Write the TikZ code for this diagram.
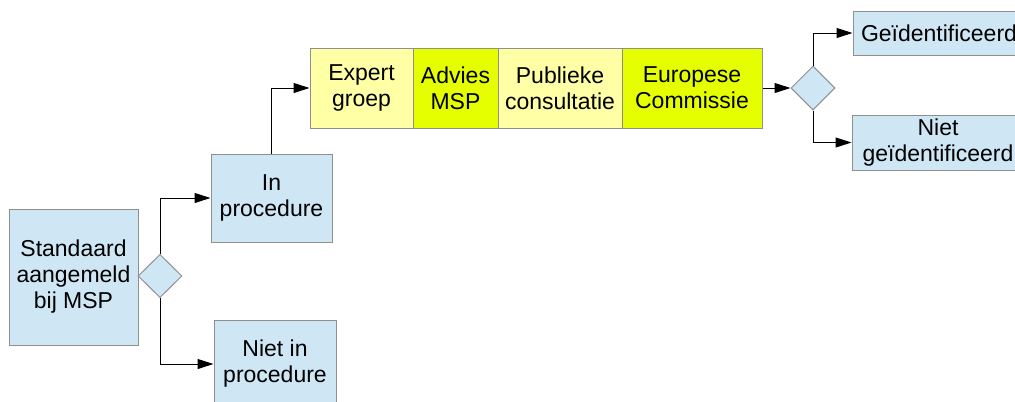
\documentclass[tikz,border=0pt]{standalone}
\usepackage{fontspec}
\setmainfont{Liberation Sans}
\usetikzlibrary{shapes.geometric, arrows.meta, positioning}
\definecolor{paleblue}{HTML}{CFE7F5}
\definecolor{paleyellow}{HTML}{FFFFA6}
\definecolor{limeyellow}{HTML}{E6FF00}
\definecolor{edgegray}{HTML}{8F8F8F}
\tikzset{
    box/.style={draw=edgegray, fill=paleblue, line width=0.75pt, align=center, inner sep=1pt,
                font=\fontsize{17.25}{19.5}\selectfont},
    stage/.style={box, minimum height=60pt},
    choice/.style={diamond, draw=edgegray, fill=paleblue, line width=0.75pt, inner sep=0pt,
                   minimum width=33pt, minimum height=32.5pt},
    arr/.style={-{Triangle[length=12pt, width=7.5pt]}, line width=0.75pt},
}

\begin{document}
\begin{tikzpicture}[x=0.75pt, y=-0.75pt]
            \clip (0,0) rectangle (1015,401);
            \useasboundingbox (0,0) rectangle (1015,401);
            % left part
            \node[box, minimum width=96.75pt, minimum height=102pt] (aangemeld) at (73.5,277) {Standaard\\aangemeld\\bij MSP};
            \node[choice] (keuze1) at (160,276) {};
            \node[box, minimum width=90.75pt, minimum height=66pt] (inproc) at (271.5,198) {In\\procedure};
            \node[box, minimum width=91.5pt, minimum height=66pt] (nietinproc) at (275,364) {Niet in\\procedure};
            % procedure stages
            \node[stage, fill=paleyellow, minimum width=77.25pt] (expert) at (361.5,88) {Expert\\groep};
            \node[stage, fill=limeyellow, minimum width=63.75pt, right=-0.75pt of expert] (advies) {Advies\\MSP};
            \node[stage, fill=paleyellow, minimum width=93pt, right=-0.75pt of advies] (publiek) {Publieke\\consultatie};
            \node[stage, fill=limeyellow, minimum width=105pt, right=-0.75pt of publiek] (commissie) {Europese\\Commissie};
            % outcome
            \node[choice, minimum height=33pt] (keuze2) at (813,88) {};
            \node[box, minimum width=129pt, minimum height=33pt] (geid) at (939,33) {Geïdentificeerd};
            \node[box, minimum width=129pt, minimum height=41.25pt] (nietgeid) at (938,142.5) {Niet\\geïdentificeerd};
            % connectors
            \draw[arr] (keuze1.north) |- (inproc.west);
            \draw[arr] (keuze1.south) |- (nietinproc.west);
            \draw[arr] (inproc.north) |- (expert.west);
            \draw[arr] (commissie.east) -- (keuze2.west);
            \draw[arr] (keuze2.north) |- (geid.west);
            \draw[arr] (keuze2.south) |- (nietgeid.west);
        \end{tikzpicture}
\end{document}
